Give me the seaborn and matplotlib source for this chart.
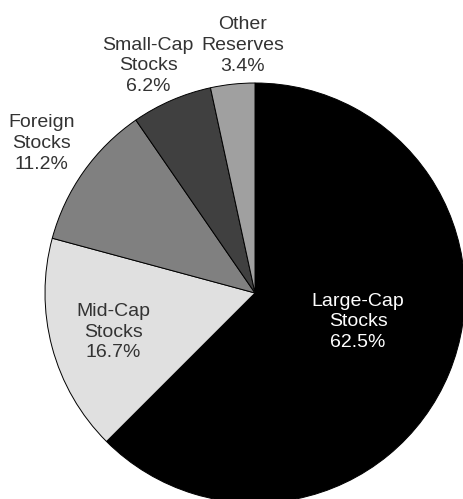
import matplotlib
matplotlib.use("Agg")
import matplotlib.pyplot as plt
import seaborn as sns
import numpy as np

# Portfolio allocation
categories = ["Large-Cap\nStocks", "Mid-Cap\nStocks", "Foreign\nStocks",
              "Small-Cap\nStocks", "Other\nReserves"]
shares = [62.5, 16.7, 11.2, 6.2, 3.4]
colors = ["#000000", "#e0e0e0", "#808080", "#404040", "#a0a0a0"]
text_colors = ["#ffffff", "#333333", "#333333", "#333333", "#333333"]

# label anchor (radius in pie units, angle in degrees)
label_polar = [(0.51, -15.7), (0.70, 195.4), (1.24, 145.0),
               (1.195, 115.2), (1.18, 92.8)]

sns.set_theme(style="white")
plt.rcParams["font.family"] = ["Liberation Sans", "DejaVu Sans"]

W, H, DPI = 464, 499, 100
fig = plt.figure(figsize=(W / DPI, H / DPI), dpi=DPI)
ax = fig.add_axes([0, 0, 1, 1])

R_PX = 210.0
CX, CY = 255.0, 293.0  # pie centre in pixels from top-left
ax.pie(shares, colors=colors, startangle=90, counterclock=False,
       radius=1.0, center=(0, 0),
       wedgeprops=dict(edgecolor="#000000", linewidth=0.7))

for lab, val, tc, (r, a) in zip(categories, shares, text_colors, label_polar):
    x = r * np.cos(np.radians(a))
    y = r * np.sin(np.radians(a))
    ax.text(x, y, f"{lab}\n{val:.1f}%", ha="center", va="center",
            color=tc, fontsize=14, linespacing=1.3)

ax.set_xlim(-CX / R_PX, (W - CX) / R_PX)
ax.set_ylim(-(H - CY) / R_PX, CY / R_PX)
ax.set_aspect("auto")
ax.axis("off")

fig.savefig("out.png", dpi=DPI, facecolor="white")
